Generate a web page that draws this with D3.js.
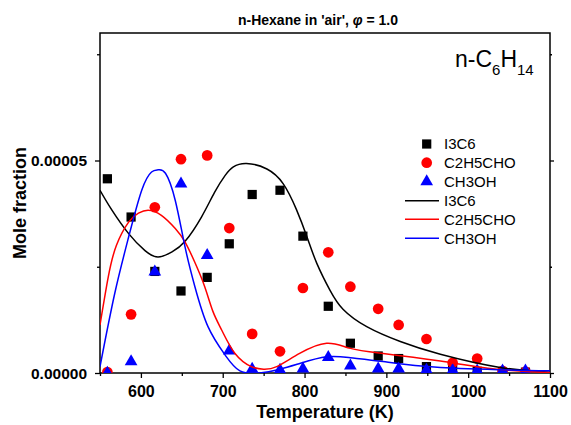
<!DOCTYPE html>
<html>
<head>
<meta charset="utf-8">
<script src="https://cdn.jsdelivr.net/npm/d3@7"></script>
<style>
  body { margin: 0; background: #fff; }
  svg { font-family: Arial, "Liberation Sans", sans-serif; }
</style>
</head>
<body>
<svg id="chart" width="571" height="425"></svg>
<script>
// ---- data (mole fractions in units of 1e-5) ----
const temps = [559, 588, 617, 649, 681, 708, 736, 770, 798, 829, 856, 890, 915, 949, 981, 1011, 1042, 1070];
const i3c6Exp   = [4.57, 3.67, 2.39, 1.93, 2.25, 3.04, 4.20, 4.30, 3.22, 1.57, 0.70, 0.40, 0.34, 0.15, 0.08, 0.04, 0.02, 0.02];
const c2h5choExp = [0.02, 1.38, 3.90, 5.03, 5.12, 3.41, 0.92, 0.51, 2.00, 2.84, 2.03, 1.51, 1.13, 0.80, 0.24, 0.34, 0.05, 0.03];
const ch3ohExp  = [0.00, 0.27, 2.38, 4.45, 2.77, 0.52, 0.09, 0.07, 0.10, 0.37, 0.17, 0.10, 0.10, 0.07, 0.06, 0.05, 0.05, 0.05];

const i3c6ModelT = [550, 564, 585, 605, 621, 638, 654, 674, 690, 703, 713, 729, 754, 774, 790, 803, 815, 831, 847, 876, 917, 966, 1039, 1100];
const i3c6ModelY = [4.30, 3.85, 3.28, 2.88, 2.73, 2.85, 3.10, 3.67, 4.25, 4.65, 4.85, 4.93, 4.80, 4.45, 3.85, 3.20, 2.58, 1.95, 1.50, 1.09, 0.74, 0.44, 0.13, 0.02];
const c2h5choModelT = [550, 560, 570, 585, 597, 609, 625, 642, 654, 666, 678, 688, 699, 715, 735, 750, 766, 794, 827, 856, 896, 966, 1039, 1100];
const c2h5choModelY = [1.13, 2.25, 3.00, 3.55, 3.76, 3.83, 3.71, 3.40, 3.08, 2.60, 2.03, 1.45, 1.00, 0.46, 0.15, 0.09, 0.15, 0.46, 0.70, 0.58, 0.46, 0.28, 0.08, 0.01];
const ch3ohModelT = [550, 568, 585, 601, 613, 621, 630, 642, 654, 666, 682, 703, 721, 745, 770, 795, 827, 856, 896, 966, 1100];
const ch3ohModelY = [0.15, 1.87, 3.20, 4.30, 4.73, 4.78, 4.70, 4.06, 2.96, 2.03, 1.09, 0.42, 0.05, 0.00, 0.09, 0.23, 0.38, 0.36, 0.27, 0.13, 0.05];

const xMajorTicks = [600, 700, 800, 900, 1000, 1100];
const xMinorTicks = [550, 650, 750, 850, 950, 1050];
const yMajorTicks = [0, 5];
const yMinorTicks = [2.5, 7.5];
const yTickLabels = ["0.00000", "0.00005"];

const seriesNames = ["I3C6", "C2H5CHO", "CH3OH"];
const colors = ["#000000", "#ff0000", "#0000ff"];

// ---- layout ----
const L = 100, R = 550, T = 33, B = 373;
const svg = d3.select("#chart");
const x = d3.scaleLinear().domain([550, 1100]).range([L, R]);
const y = d3.scaleLinear().domain([0, 8]).range([B, T]);

svg.append("defs").append("clipPath").attr("id", "clip")
  .append("rect").attr("x", L).attr("y", T).attr("width", R - L).attr("height", B - T);

// title
const title = svg.append("text").attr("x", 318).attr("y", 25).attr("text-anchor", "middle")
  .attr("font-size", 14).attr("font-weight", "bold");
title.append("tspan").text("n-Hexane in 'air', ");
title.append("tspan").attr("font-style", "italic").text("\u03C6");
title.append("tspan").text(" = 1.0");

// axes
const axB = svg.append("g").attr("transform", `translate(0,${B})`)
  .call(d3.axisBottom(x).tickValues(xMajorTicks).tickSize(5).tickFormat(d3.format("d")));
svg.append("g").attr("transform", `translate(0,${B})`)
  .call(d3.axisBottom(x).tickValues(xMinorTicks).tickSize(3).tickFormat(""));
const axL = svg.append("g").attr("transform", `translate(${L},0)`)
  .call(d3.axisLeft(y).tickValues(yMajorTicks).tickSize(5).tickFormat((d, i) => yTickLabels[i]));
svg.append("g").attr("transform", `translate(${L},0)`)
  .call(d3.axisLeft(y).tickValues(yMinorTicks).tickSize(3).tickFormat(""));
svg.append("g").attr("transform", `translate(${R},0)`)
  .call(d3.axisRight(y).tickValues(yMajorTicks).tickSize(4).tickFormat(""));
svg.append("g").attr("transform", `translate(${R},0)`)
  .call(d3.axisRight(y).tickValues(yMinorTicks).tickSize(2).tickFormat(""));
svg.selectAll(".domain").remove();
svg.selectAll(".tick line").attr("stroke", "#000").attr("stroke-width", 1.3);
axB.selectAll("text").attr("font-size", 16).attr("font-weight", "bold").attr("fill", "#000")
  .attr("font-family", "Arial, 'Liberation Sans', sans-serif").attr("dy", "0").attr("y", 24);
axL.selectAll("text").attr("font-size", 15.5).attr("font-weight", "bold").attr("fill", "#000")
  .attr("font-family", "Arial, 'Liberation Sans', sans-serif").attr("x", -13).attr("dy", "0.35em");

// frame
svg.append("rect").attr("x", L).attr("y", T).attr("width", R - L).attr("height", B - T)
  .attr("fill", "none").attr("stroke", "#000").attr("stroke-width", 1.5);

// axis titles
svg.append("text").attr("x", 325).attr("y", 418).attr("text-anchor", "middle")
  .attr("font-size", 18).attr("font-weight", "bold").text("Temperature (K)");
svg.append("text").attr("transform", "translate(26,203) rotate(-90)").attr("text-anchor", "middle")
  .attr("font-size", 18).attr("font-weight", "bold").text("Mole fraction");

// markers
const plot = svg.append("g").attr("clip-path", "url(#clip)");
const sq = d3.symbol().type(d3.symbolSquare).size(85);
const ci = d3.symbol().type(d3.symbolCircle).size(90);
const tr = d3.symbol().type(d3.symbolTriangle).size(70);
const expSets = [[i3c6Exp, sq], [c2h5choExp, ci], [ch3ohExp, tr]];
expSets.forEach(([vals, sym], k) => {
  plot.append("g").selectAll("path").data(temps).join("path")
    .attr("d", sym)
    .attr("transform", (t, i) => `translate(${x(t)},${y(vals[i])})`)
    .attr("fill", colors[k]);
});

// model lines
const line = d3.line().x(d => x(d[0])).y(d => y(d[1])).curve(d3.curveNatural);
const models = [[i3c6ModelT, i3c6ModelY], [c2h5choModelT, c2h5choModelY], [ch3ohModelT, ch3ohModelY]];
models.forEach(([ts, vs], k) => {
  plot.append("path").datum(ts.map((t, i) => [t, vs[i]]))
    .attr("d", line).attr("fill", "none").attr("stroke", colors[k]).attr("stroke-width", 1.5);
});

// legend
const legRows = [144, 162.7, 181.7, 200.7, 219.3, 238.3];
const legSyms = [sq, ci, tr];
const leg = svg.append("g");
seriesNames.forEach((name, k) => {
  leg.append("path").attr("d", legSyms[k]).attr("transform", `translate(426.7,${legRows[k]})`).attr("fill", colors[k]);
  leg.append("text").attr("x", 444).attr("y", legRows[k]).attr("dy", "0.35em").attr("font-size", 15).text(name);
  leg.append("line").attr("x1", 405).attr("x2", 439).attr("y1", legRows[k + 3]).attr("y2", legRows[k + 3])
    .attr("stroke", colors[k]).attr("stroke-width", 1.5);
  leg.append("text").attr("x", 444).attr("y", legRows[k + 3]).attr("dy", "0.35em").attr("font-size", 15).text(name);
});

// species label
const sp = svg.append("text").attr("x", 455).attr("y", 67).attr("font-size", 23);
sp.append("tspan").text("n-C");
sp.append("tspan").attr("font-size", 15).attr("dy", 8).text("6");
sp.append("tspan").attr("dy", -8).text("H");
sp.append("tspan").attr("font-size", 15).attr("dy", 8).text("14");
</script>
</body>
</html>
